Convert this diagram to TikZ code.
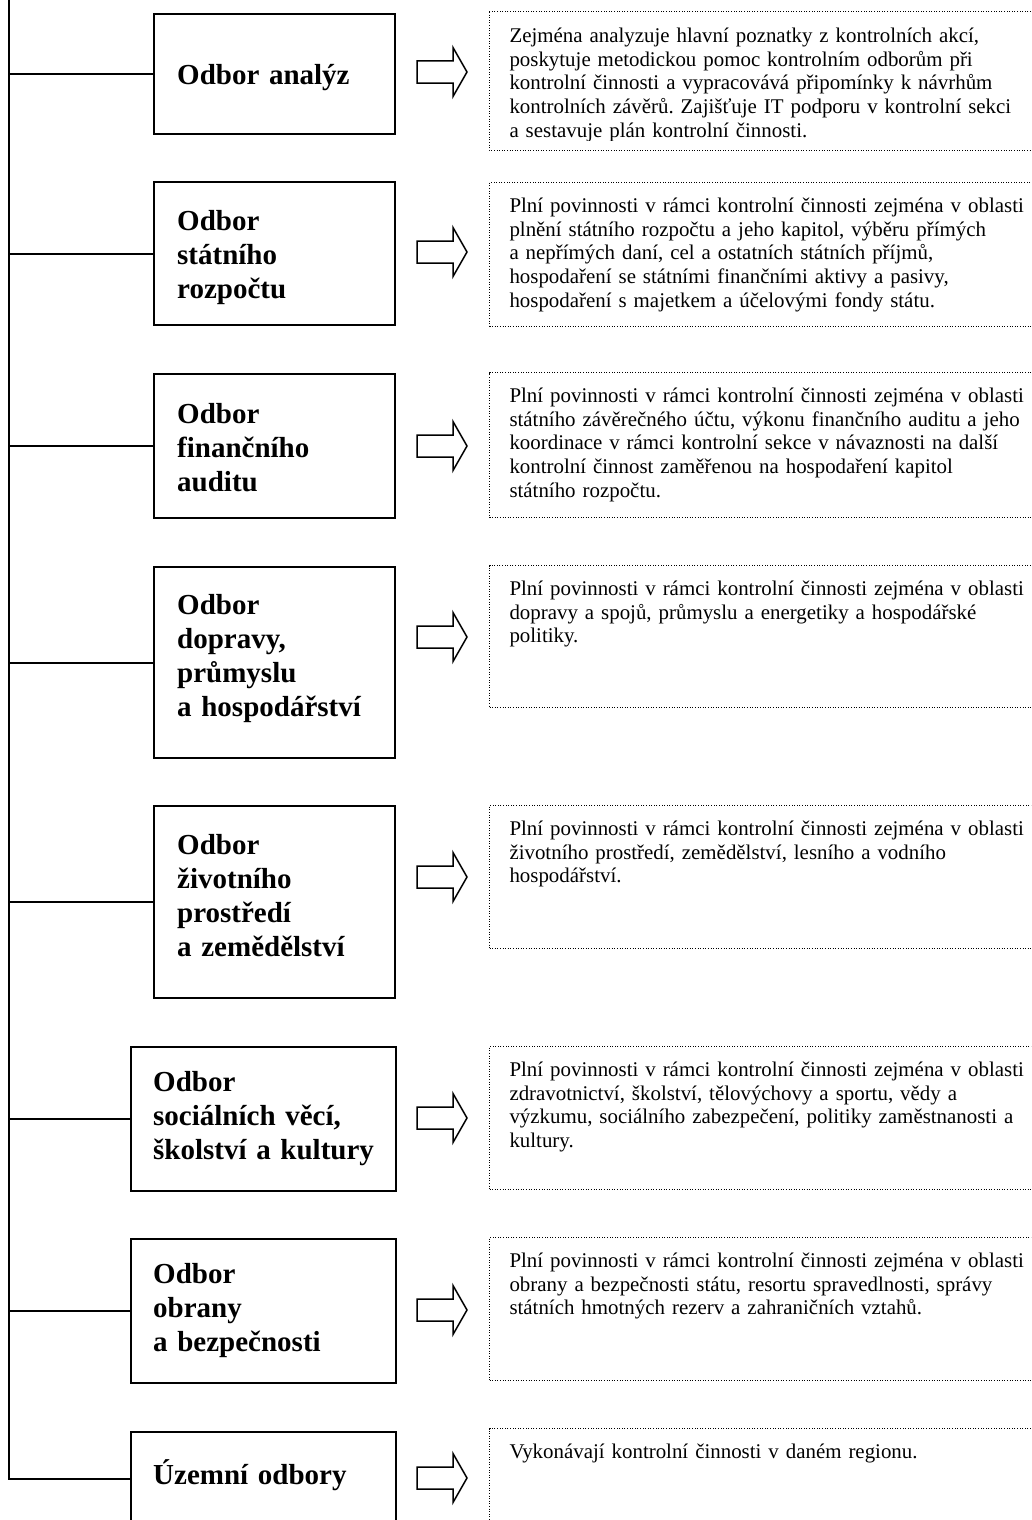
\documentclass[tikz,border=0pt]{standalone}
\usepackage{fontspec}
\setmainfont{Liberation Serif}
\frenchspacing
\newcommand{\dutyhead}{Plní povinnosti v rámci kontrolní činnosti zejména v oblasti}

\begin{document}
\begin{tikzpicture}[
  x=1pt, y=-1pt,
  unit/.style={rectangle, draw, line width=2.4pt, anchor=north west,
    inner ysep=0pt, align=left, font=\fontsize{29}{34}\selectfont\bfseries},
  narrow/.style={inner xsep=23pt, text width=195pt},
  wide/.style={inner xsep=22pt, text width=221pt},
  rows/.style 2 args={text height=#1pt, text depth=#2pt},
  dotline/.style={line width=1pt, dash pattern=on 1pt off 1.6pt},
  duty/.style={rectangle, draw, dotline,
    anchor=north west, inner xsep=20pt, inner ysep=0pt, text width=560pt,
    align=left, text height=30pt, text depth=#1pt,
    font=\fontsize{20.9}{23.7}\selectfont},
  link/.style={line width=1.6pt},
  fatarrow/.pic={\draw[line width=1.5pt, line join=miter]
    (0,-11) -- (36,-11) -- (36,-24.5) -- (50,0) -- (36,24.5) -- (36,11) -- (0,11) -- cycle;},
]
\useasboundingbox (0,0) rectangle (1031,1520);
\clip (0,0) rectangle (1031,1520);

% Odbory
\node[unit, narrow, rows={70}{50}] (analyz) at (153,13) {Odbor analýz};
\node[unit, narrow, rows={48}{95}] (rozpocet) at (153,181) {Odbor\\státního\\rozpočtu};
\node[unit, narrow, rows={49}{95}] (audit) at (153,373) {Odbor\\finančního\\auditu};
\node[unit, narrow, rows={47}{144}] (doprava) at (153,566) {Odbor\\dopravy,\\průmyslu\\a hospodářství};
\node[unit, narrow, rows={48}{144}] (prostredi) at (153,805) {Odbor\\životního\\prostředí\\a zemědělství};
\node[unit, wide, rows={44}{100}] (socialni) at (130,1046) {Odbor\\sociálních věcí,\\školství a kultury};
\node[unit, wide, rows={44}{100}] (obrana) at (130,1238) {Odbor\\obrany\\a bezpečnosti};
\node[unit, wide, rows={52}{41}] (uzemni) at (130,1431) {Územní odbory};

% Connectors from the trunk
\coordinate (trunk) at (9,0);
\draw[link] (trunk) |- (uzemni.west);
\foreach \o in {analyz, rozpocet, audit, doprava, prostredi, socialni, obrana}
  \draw[link] (trunk |- \o.west) -- (\o.west);

% Arrows
\foreach \y in {72, 252, 446, 637, 877, 1118, 1310, 1478}
  \pic at (417,\y) {fatarrow};

% Descriptions (the first one overflows its box and is cut off)
\begin{scope}
  \clip (489,0) rectangle (1031,140);
  \node[duty=107, draw=none] (dAnalyz) at (489,12) {Zejména analyzuje hlavní poznatky z kontrolních akcí,\\
    poskytuje metodickou pomoc kontrolním odborům při\\
    kontrolní činnosti a vypracovává připomínky k návrhům\\
    kontrolních závěrů. Zajišťuje IT podporu v kontrolní sekci\\
    a sestavuje plán kontrolní činnosti.};
\end{scope}
\draw[dotline] (dAnalyz.north west) rectangle (dAnalyz.south east);
\node[duty=114] (dRozpocet) at (489,182) {\dutyhead\\
  plnění státního rozpočtu a jeho kapitol, výběru přímých\\
  a nepřímých daní, cel a ostatních státních příjmů,\\
  hospodaření se státními finančními aktivy a pasivy,\\
  hospodaření s majetkem a účelovými fondy státu.};
\node[duty=115] (dAudit) at (489,372) {\dutyhead\\
  státního závěrečného účtu, výkonu finančního auditu a jeho\\
  koordinace v rámci kontrolní sekce v návaznosti na další\\
  kontrolní činnost zaměřenou na hospodaření kapitol\\
  státního rozpočtu.};
\node[duty=112] (dDoprava) at (489,565) {\dutyhead\\
  dopravy a spojů, průmyslu a energetiky a hospodářské\\
  politiky.};
\node[duty=113] (dProstredi) at (489,805) {\dutyhead\\
  životního prostředí, zemědělství, lesního a vodního\\
  hospodářství.};
\node[duty=113] (dSocialni) at (489,1046) {\dutyhead\\
  zdravotnictví, školství, tělovýchovy a sportu, vědy a\\
  výzkumu, sociálního zabezpečení, politiky zaměstnanosti a\\
  kultury.};
\node[duty=113] (dObrana) at (489,1237) {\dutyhead\\
  obrany a bezpečnosti státu, resortu spravedlnosti, správy\\
  státních hmotných rezerv a zahraničních vztahů.};
\node[duty=120] (dUzemni) at (489,1428) {Vykonávají kontrolní činnosti v daném regionu.};

\end{tikzpicture}
\end{document}
